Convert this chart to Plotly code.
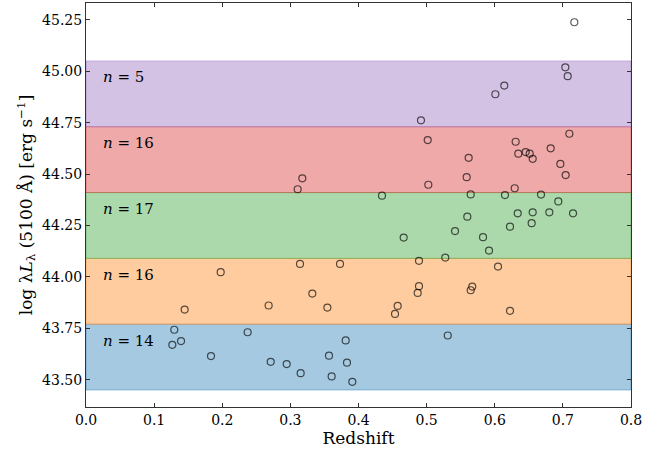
import plotly.graph_objects as go

# redshift and log luminosity of the sample
redshift = [
    # blue bin
    0.1296, 0.1267, 0.1395, 0.1835, 0.2373, 0.2711, 0.2946, 0.3151, 0.3567, 0.3606,
    0.3812, 0.3831, 0.3909, 0.5310,
    # orange bin
    0.1977, 0.1448, 0.3141, 0.3729, 0.3322, 0.2681, 0.3543, 0.4888, 0.4888, 0.4869,
    0.4575, 0.4536, 0.5670, 0.5647, 0.6048, 0.6224,
    # green bin
    0.4345, 0.4663, 0.5274, 0.5417, 0.5597, 0.5647, 0.5828, 0.5916, 0.6150, 0.6337,
    0.6224, 0.6557, 0.6542, 0.6679, 0.6801, 0.6933, 0.7149,
    # red bin
    0.3175, 0.3107, 0.5025, 0.5016, 0.5617, 0.5588, 0.6307, 0.6346, 0.6293, 0.6454,
    0.6513, 0.6557, 0.6821, 0.6963, 0.7041, 0.7095,
    # purple bin
    0.4917, 0.6009, 0.6140, 0.7036, 0.7071,
    # outside the bins
    0.7168,
]
log_lum = [
    43.743, 43.670, 43.688, 43.615, 43.731, 43.587, 43.576, 43.532, 43.617, 43.516,
    43.691, 43.583, 43.490, 43.715,
    44.023, 43.841, 44.063, 44.063, 43.919, 43.861, 43.851, 44.078, 43.955, 43.922,
    43.859, 43.820, 43.953, 43.935, 44.050, 43.835,
    44.395, 44.191, 44.094, 44.223, 44.293, 44.401, 44.193, 44.128, 44.398, 44.309,
    44.244, 44.314, 44.261, 44.400, 44.314, 44.367, 44.309,
    44.479, 44.426, 44.448, 44.665, 44.579, 44.485, 44.657, 44.599, 44.431, 44.607,
    44.599, 44.574, 44.625, 44.549, 44.495, 44.696,
    44.761, 44.888, 44.930, 45.019, 44.976,
    45.238,
]

bin_edges = [43.45, 43.77, 44.09, 44.41, 44.73, 45.05]
bin_counts = [14, 16, 17, 16, 5]
bin_colors = ["31,119,180", "255,127,14", "44,160,44", "214,39,40", "148,103,189"]

x_ticks = [0.0, 0.1, 0.2, 0.3, 0.4, 0.5, 0.6, 0.7, 0.8]
y_ticks = [43.50, 43.75, 44.00, 44.25, 44.50, 44.75, 45.00, 45.25]

serif = "DejaVu Serif"

fig = go.Figure()

# shaded luminosity bins + count labels
for i, n in enumerate(bin_counts):
    rgb = bin_colors[i]
    fig.add_shape(
        type="rect", xref="x", yref="y", layer="below",
        x0=0, x1=0.8, y0=bin_edges[i], y1=bin_edges[i + 1],
        fillcolor=f"rgba({rgb},0.4)",
        line=dict(color=f"rgba({rgb},0.4)", width=1),
    )
    fig.add_annotation(
        x=0.022, y=bin_edges[i + 1] - 0.08, xref="x", yref="y",
        text=f"<i>n</i> = {n}", showarrow=False, xanchor="left", yanchor="middle",
        font=dict(family=serif, size=15, color="black", weight="normal"),
    )

fig.add_trace(go.Scatter(
    x=redshift, y=log_lum, mode="markers",
    marker=dict(symbol="circle-open", size=7, color="rgba(0,0,0,0.65)", line=dict(width=1.2)),
    showlegend=False,
))

axis_common = dict(
    showgrid=False, zeroline=False, showline=True, linecolor="#333", linewidth=1,
    ticks="inside", ticklen=4, tickcolor="#333", mirror="ticks", automargin=False,
    tickfont=dict(family=serif, size=14, color="black", weight="normal"),
)

fig.update_layout(
    width=670, height=453,
    margin=dict(l=86, r=39, t=3, b=46),
    plot_bgcolor="white", paper_bgcolor="white",
    xaxis=dict(
        range=[0, 0.8], tickvals=x_ticks, ticktext=[f"{v:.1f}" for v in x_ticks],
        title=dict(text="Redshift", font=dict(family=serif, size=17, color="black", weight="normal"),
                   standoff=3),
        **axis_common,
    ),
    yaxis=dict(
        range=[43.3675, 45.3316], tickvals=y_ticks, ticktext=[f"{v:.2f}" for v in y_ticks],
        title=dict(text="log λ<i>L</i><sub>λ</sub> (5100 Å) [erg s<sup>−1</sup>]",
                   font=dict(family=serif, size=17, color="black", weight="normal"), standoff=5),
        **axis_common,
    ),
)

# drop the default body margin so the figure sits at the window corner
fig.write_html("out.html", config={"displayModeBar": False},
               post_script="document.body.style.margin='0';")
